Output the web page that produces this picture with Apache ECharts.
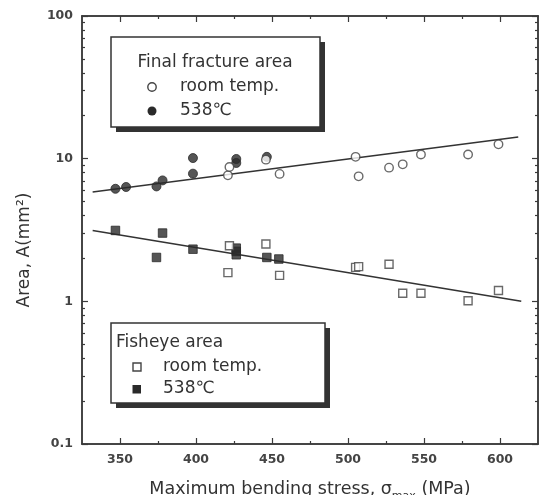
<!DOCTYPE html>
<html>
<head>
<meta charset="utf-8">
<script src="https://cdn.jsdelivr.net/npm/echarts@6/dist/echarts.min.js"></script>
<style>
html,body{margin:0;padding:0;background:#fff;}
#chart{width:543px;height:495px;}
</style>
</head>
<body>
<div id="chart"></div>
<script>
// ---- data ----
const legendTitles = ['Final fracture area', 'Fisheye area'];
const legendEntries = ['room temp.', '538℃'];

const xMajorTicks = [350, 400, 450, 500, 550, 600];
const xMinorTicks = [375, 425, 475, 525, 575];
const yMajorTicks = [0.1, 1, 10, 100];
const yMinorTicks = [0.2,0.3,0.4,0.5,0.6,0.7,0.8,0.9, 2,3,4,5,6,7,8,9, 20,30,40,50,60,70,80,90];

// Final fracture area, room temp (open circles)
const finalRoomX = [421, 422, 446, 455, 505, 507, 527, 536, 548, 579, 599];
const finalRoomY = [7.64, 8.75, 9.84, 7.82, 10.3, 7.52, 8.65, 9.12, 10.7, 10.7, 12.6];
// Final fracture area, 538C (filled circles)
const finalHotX = [347, 354, 374, 378, 398, 398, 426.5, 426.5, 446.6];
const finalHotY = [6.15, 6.33, 6.39, 7.04, 10.1, 7.85, 9.95, 9.33, 10.3];
// Fisheye area, room temp (open squares)
const fishRoomX = [421, 422, 446, 455, 505, 507, 527, 536, 548, 579, 599];
const fishRoomY = [1.59, 2.45, 2.52, 1.52, 1.73, 1.75, 1.82, 1.14, 1.14, 1.01, 1.19];
// Fisheye area, 538C (filled squares)
const fishHotX = [347, 374, 378, 398, 426.5, 426.5, 426.5, 446.6, 454.5];
const fishHotY = [3.14, 2.03, 3.01, 2.32, 2.36, 2.24, 2.12, 2.03, 1.98];
// fitted lines (end points)
const fitFinalX = [332, 612];
const fitFinalY = [5.85, 14.2];
const fitFishX = [332, 614];
const fitFishY = [3.14, 1.0];

const zip = (xs, ys) => xs.map((x, i) => [x, ys[i]]);

const FONT = 'DejaVu Sans';
const AX = '#3a3a3a';
const TXT = '#333';

function xAxisDef(pos, ticks, len, labels) {
  return {
    type: 'value', min: 325, max: 625, position: pos,
    axisLine: { show: true, onZero: false, lineStyle: { color: AX, width: 1.5 } },
    axisTick: { show: true, inside: true, length: len, customValues: ticks, lineStyle: { color: AX, width: 1.2 } },
    axisLabel: labels ? { show: true, customValues: ticks, margin: 9, fontFamily: FONT, fontSize: 12.5, fontWeight: 'bold', color: '#444' } : { show: false },
    splitLine: { show: false }
  };
}
function yAxisDef(pos, ticks, len, labels) {
  return {
    type: 'log', logBase: 10, min: 0.1, max: 100, position: pos,
    axisLine: { show: true, onZero: false, lineStyle: { color: AX, width: 1.5 } },
    axisTick: { show: true, inside: true, length: len, customValues: ticks, lineStyle: { color: AX, width: 1.2 } },
    axisLabel: labels ? { show: true, customValues: ticks, margin: 9, fontFamily: FONT, fontSize: 12.5, fontWeight: 'bold', color: '#444',
      formatter: v => String(v) } : { show: false },
    splitLine: { show: false }
  };
}

const xAxes = [
  xAxisDef('bottom', xMajorTicks, 6, true),
  xAxisDef('bottom', xMinorTicks, 3, false),
  xAxisDef('top', xMajorTicks, 6, false),
  xAxisDef('top', xMinorTicks, 3, false)
];
xAxes[0].name = 'Maximum bending stress, σ{sub|max} (MPa)';
xAxes[0].nameLocation = 'middle';
xAxes[0].nameGap = 32;
xAxes[0].nameTextStyle = {
  fontFamily: FONT, fontSize: 17.5, color: TXT, lineHeight: 26,
  rich: { sub: { fontFamily: FONT, fontSize: 11, color: TXT, lineHeight: 4, verticalAlign: 'bottom' } }
};

const yAxes = [
  yAxisDef('left', yMajorTicks, 6, true),
  yAxisDef('left', yMinorTicks, 3, false),
  yAxisDef('right', yMajorTicks, 6, false),
  yAxisDef('right', yMinorTicks, 3, false)
];

const openStyle = { color: '#fff', borderColor: '#444', borderWidth: 1.4 };
const fillStyle = { color: '#2a2a2a', borderColor: '#2a2a2a', borderWidth: 1 };

const series = [
  { type: 'line', data: zip(fitFinalX, fitFinalY), symbol: 'none', lineStyle: { color: '#333', width: 1.5 }, silent: true, z: 1 },
  { type: 'line', data: zip(fitFishX, fitFishY), symbol: 'none', lineStyle: { color: '#333', width: 1.5 }, silent: true, z: 1 },
  { name: 'final-room', type: 'scatter', data: zip(finalRoomX, finalRoomY), symbol: 'circle', symbolSize: 8.5, itemStyle: openStyle, z: 3 },
  { name: 'final-hot', type: 'scatter', data: zip(finalHotX, finalHotY), symbol: 'circle', symbolSize: 9, itemStyle: fillStyle, z: 2 },
  { name: 'fish-room', type: 'scatter', data: zip(fishRoomX, fishRoomY), symbol: 'rect', symbolSize: 8, itemStyle: openStyle, z: 3 },
  { name: 'fish-hot', type: 'scatter', data: zip(fishHotX, fishHotY), symbol: 'rect', symbolSize: 8.5, itemStyle: fillStyle, z: 2 }
];

const legendText = { fontFamily: FONT, fontSize: 17, fill: TXT };
function box(x, y, w, h) {
  return [
    { type: 'rect', shape: { x: x + 5, y: y + 5, width: w, height: h }, style: { fill: '#333' }, z: 100 },
    { type: 'rect', shape: { x: x, y: y, width: w, height: h }, style: { fill: '#fff', stroke: '#333', lineWidth: 1.5 }, z: 101 }
  ];
}
const graphics = [].concat(
  box(111, 37, 209, 90),
  [
    { type: 'text', x: 215, y: 63, style: Object.assign({ text: legendTitles[0], align: 'center', verticalAlign: 'middle' }, legendText), z: 102 },
    { type: 'circle', shape: { cx: 152, cy: 87, r: 4.2 }, style: { fill: '#fff', stroke: '#444', lineWidth: 1.4 }, z: 102 },
    { type: 'text', x: 180, y: 87, style: Object.assign({ text: legendEntries[0], align: 'left', verticalAlign: 'middle' }, legendText), z: 102 },
    { type: 'circle', shape: { cx: 152, cy: 111, r: 4.5 }, style: { fill: '#2a2a2a' }, z: 102 },
    { type: 'text', x: 180, y: 111, style: Object.assign({ text: legendEntries[1], align: 'left', verticalAlign: 'middle' }, legendText), z: 102 }
  ],
  box(111, 323, 214, 80),
  [
    { type: 'text', x: 116, y: 343, style: Object.assign({ text: legendTitles[1], align: 'left', verticalAlign: 'middle' }, legendText), z: 102 },
    { type: 'rect', shape: { x: 133, y: 363, width: 8, height: 8 }, style: { fill: '#fff', stroke: '#444', lineWidth: 1.4 }, z: 102 },
    { type: 'text', x: 163, y: 367, style: Object.assign({ text: legendEntries[0], align: 'left', verticalAlign: 'middle' }, legendText), z: 102 },
    { type: 'rect', shape: { x: 132.5, y: 385, width: 8.5, height: 8.5 }, style: { fill: '#2a2a2a' }, z: 102 },
    { type: 'text', x: 163, y: 389, style: Object.assign({ text: legendEntries[1], align: 'left', verticalAlign: 'middle' }, legendText), z: 102 }
  ],
  [
    { type: 'text', x: 25, y: 250, rotation: Math.PI / 2,
      style: { text: 'Area, A(mm²)', fontFamily: FONT, fontSize: 17, fill: TXT, align: 'center', verticalAlign: 'middle' } }
  ]
);

const chart = echarts.init(document.getElementById('chart'), null, { renderer: 'canvas' });
chart.setOption({
  animation: false,
  backgroundColor: '#fff',
  grid: { left: 82, right: 5, top: 16, bottom: 51, containLabel: false, outerBoundsMode: 'none' },
  xAxis: xAxes,
  yAxis: yAxes,
  series: series,
  graphic: graphics
});
</script>
</body>
</html>
